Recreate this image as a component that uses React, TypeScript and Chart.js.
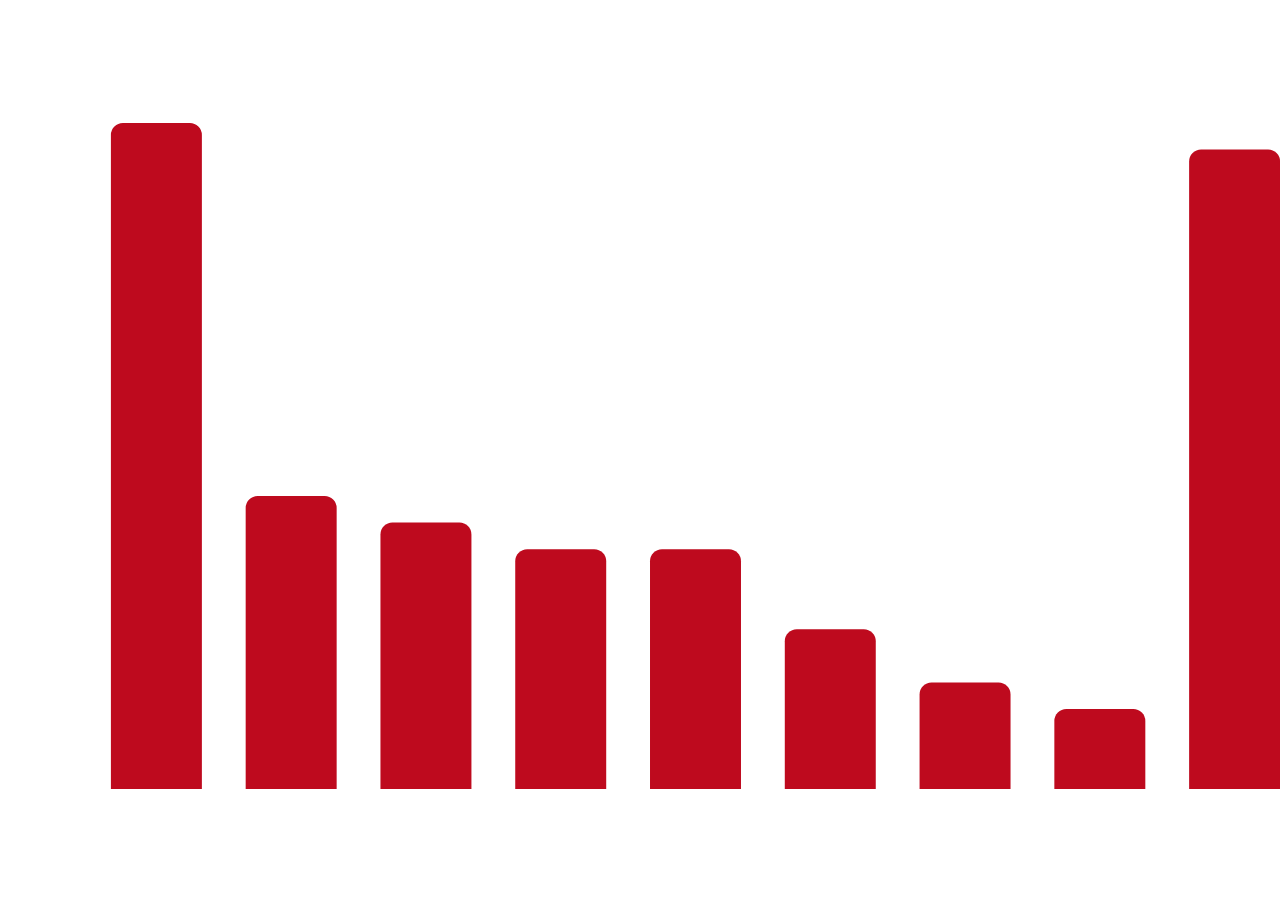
import React, { useEffect, useRef } from "react";
import { Chart, registerables } from "chart.js";

Chart.register(...registerables);

const categories = ["1", "2", "3", "4", "5", "6", "7", "8", "9"];
const values = [25, 11, 10, 9, 9, 6, 4, 3, 24];

export default function App() {
  const ref = useRef<HTMLCanvasElement | null>(null);
  useEffect(() => {
    if (!ref.current) return;
    const chart = new Chart(ref.current, {
      type: "bar",
      data: {
        labels: categories,
        datasets: [
          {
            data: values,
            backgroundColor: "rgb(190, 10, 30)",
            borderRadius: { topLeft: 12, topRight: 12, bottomLeft: 0, bottomRight: 0 },
            borderSkipped: false,
            categoryPercentage: 0.75,
            barPercentage: 0.9,
          },
        ],
      },
      options: {
        animation: false,
        responsive: false,
        maintainAspectRatio: false,
        layout: { padding: { left: 89, right: 0, top: 43, bottom: 111 } },
        plugins: { legend: { display: false }, tooltip: { enabled: false } },
        scales: {
          x: { display: false, offset: true },
          y: { display: false, min: 0, max: 28 },
        },
      },
    });
    return () => chart.destroy();
  }, []);
  return (
    <div style={{ position: "fixed", left: 0, top: 0, width: 1280, height: 900, overflow: "hidden", background: "#fff" }}>
      <canvas ref={ref} width={1302} height={900} style={{ display: "block", width: 1302, height: 900 }} />
    </div>
  );
}
